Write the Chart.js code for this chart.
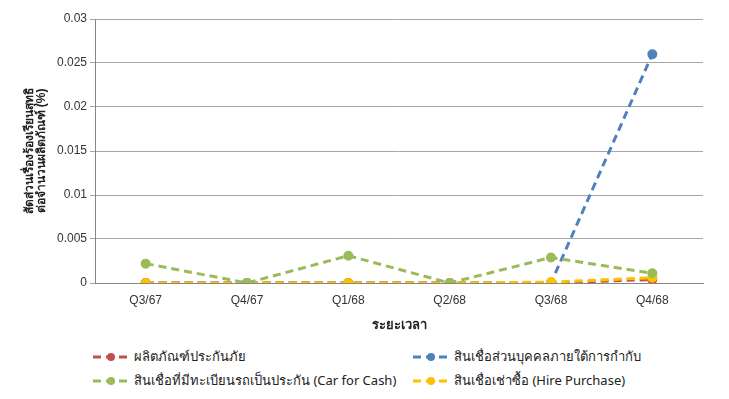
<!DOCTYPE html>
<html>
<head>
<meta charset="utf-8">
<script src="https://cdn.jsdelivr.net/npm/chart.js@4"></script>
<style>
  body { margin: 0; background: #fff; font-family: "Noto Sans", "DejaVu Sans", sans-serif; }
  #wrap { position: relative; width: 729px; height: 399px; }
  #legend { position: absolute; left: 92px; top: 346px; width: 620px; display: grid; grid-template-columns: 320px 300px; row-gap: 3px; font-size: 13px; color: #222; }
  .item { display: flex; align-items: center; white-space: nowrap; }
  .item svg { margin-right: 4px; }
</style>
</head>
<body>
<div id="wrap">
  <canvas id="myChart" width="729" height="345"></canvas>
  <div id="legend"></div>
</div>
<script>
var quarters = ['Q3/67', 'Q4/67', 'Q1/68', 'Q2/68', 'Q3/68', 'Q4/68'];
var insurance = [0, 0, 0, 0, 0, 0.0004];
var personalLoan = [0, 0, 0, 0, 0, 0.026];
var carForCash = [0.0022, 0, 0.0031, 0, 0.0029, 0.0011];
var hirePurchase = [0, 0, 0, 0, 0.0001, 0.0006];
var yTicks = ['0', '0.005', '0.01', '0.015', '0.02', '0.025', '0.03'];

var seriesNames = [
    'ผลิตภัณฑ์ประกันภัย',
    'สินเชื่อส่วนบุคคลภายใต้การกำกับ',
    'สินเชื่อที่มีทะเบียนรถเป็นประกัน (Car for Cash)',
    'สินเชื่อเช่าซื้อ (Hire Purchase)'
];
var colors = ['#C0504D', '#4F81BD', '#9BBB59', '#FFC000'];
var values = [insurance, personalLoan, carForCash, hirePurchase];

// draw order: yellow on top of red
var order = [2, 3, 0, 1];

var datasets = values.map(function (v, i) {
    return {
        label: seriesNames[i],
        data: v,
        borderColor: colors[i],
        backgroundColor: colors[i],
        borderWidth: 3,
        borderDash: [8, 5],
        pointRadius: 3.5,
        pointHoverRadius: 3.5,
        order: order[i],
        tension: 0
    };
});

var ctx = document.getElementById('myChart').getContext('2d');
var myChart = new Chart(ctx, {
    type: 'line',
    data: { labels: quarters, datasets: datasets },
    options: {
        responsive: false,
        animation: false,
        layout: { padding: { top: 19, right: 26, left: 20, bottom: 8 } },
        plugins: {
            legend: { display: false },
            tooltip: { enabled: false }
        },
        scales: {
            x: {
                offset: true,
                grid: { display: false, drawTicks: false },
                border: { color: '#868686' },
                ticks: { color: '#333', font: { size: 12 }, padding: 10 },
                title: {
                    display: true,
                    text: 'ระยะเวลา',
                    color: '#222',
                    font: { size: 13, weight: 'bold' },
                    padding: { top: 0 }
                }
            },
            y: {
                min: 0,
                max: 0.03,
                grid: { color: '#A6A6A6', tickLength: 5 },
                border: { color: '#868686' },
                ticks: {
                    stepSize: 0.005,
                    color: '#333',
                    font: { size: 12 },
                    callback: function (v, i) { return yTicks[i]; }
                },
                title: {
                    display: true,
                    text: ['สัดส่วนเรื่องร้องเรียนสุทธิ', 'ต่อจำนวนผลิตภัณฑ์ (%)'],
                    color: '#222',
                    font: { size: 12, weight: 'bold', lineHeight: 1.0 },
                    padding: { bottom: 6 }
                }
            }
        }
    }
});

var legend = document.getElementById('legend');
[0, 1, 2, 3].forEach(function (i) {
    var c = colors[i];
    var div = document.createElement('div');
    div.className = 'item';
    div.innerHTML = '<svg width="38" height="10"><line x1="1" y1="5" x2="37" y2="5" stroke="' + c +
        '" stroke-width="3" stroke-dasharray="8,5"/><circle cx="19" cy="5" r="4" fill="' + c + '"/></svg>' +
        '<span>' + seriesNames[i] + '</span>';
    legend.appendChild(div);
});
</script>
</body>
</html>
